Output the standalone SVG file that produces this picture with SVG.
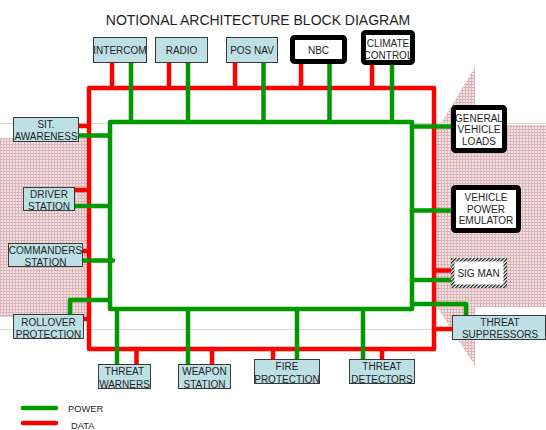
<svg xmlns="http://www.w3.org/2000/svg" width="546" height="430" viewBox="0 0 546 430">
  <defs>
    <!-- fine pink grid used for the background arrow -->
    <pattern id="pinkGrid" width="3" height="3" patternUnits="userSpaceOnUse">
      <rect width="3" height="3" fill="#f3e2e3"/>
      <rect width="3" height="1" fill="#dcb4b7"/>
      <rect width="1" height="3" fill="#dcb4b7"/>
    </pattern>
    <!-- diagonal black/white stripes for the SIG MAN frame -->
    <pattern id="hatch" width="2.6" height="2.6" patternUnits="userSpaceOnUse" patternTransform="rotate(45)">
      <rect width="2.6" height="2.6" fill="#ffffff"/>
      <rect width="1.3" height="2.6" fill="#1a1a1a"/>
    </pattern>
  </defs>
  <style>
    .t{font-family:"Liberation Sans",Arial,sans-serif;fill:#1e1e1e;text-anchor:middle}
    .lbl{font-size:10px}
    .title{font-size:14px}
    .legend{font-size:9.3px;text-anchor:start}
    .box{fill:#bce0e5;stroke:#3a3a3a;stroke-width:1}
    .heavy{fill:#ffffff;stroke:#000000;stroke-width:5}
    .data{stroke:#ff0000;stroke-width:4.5;fill:none;stroke-linecap:round;stroke-linejoin:round}
    .pwr{stroke:#009900;stroke-width:4.5;fill:none;stroke-linecap:round;stroke-linejoin:round}
    .guide{stroke:#cfe2c8;stroke-width:1}
  </style>

  <rect width="546" height="430" fill="#ffffff"/>

  <!-- background arrow -->
  <g id="backdrop">
    <rect x="0" y="138" width="89" height="179" fill="url(#pinkGrid)"/>
    <polygon fill="url(#pinkGrid)" points="434,125 440,125 475,67 475,125 546,125 546,307 475,307 475,366 437,307 434,307"/>
  </g>

  <!-- faint horizontal guides -->
  <g id="guides">
    <line class="guide" x1="0" y1="123.5" x2="546" y2="123.5"/>
    <line class="guide" x1="0" y1="329.5" x2="546" y2="329.5"/>
  </g>

  <text class="t title" x="258" y="25">NOTIONAL ARCHITECTURE BLOCK DIAGRAM</text>

  <g id="connectors">
    <!-- data bus -->
    <g id="data-bus">
      <rect class="data" x="89" y="88" width="345" height="261"/>
      <line class="data" x1="112" y1="63" x2="112" y2="88"/>
      <line class="data" x1="169" y1="63" x2="169" y2="88"/>
      <line class="data" x1="235" y1="63" x2="235" y2="88"/>
      <line class="data" x1="301" y1="64" x2="301" y2="88"/>
      <line class="data" x1="372" y1="65" x2="372" y2="88"/>
      <line class="data" x1="79" y1="126" x2="89" y2="126"/>
      <line class="data" x1="75" y1="190" x2="89" y2="190"/>
      <line class="data" x1="83" y1="251" x2="89" y2="251"/>
      <line class="data" x1="84" y1="319" x2="89" y2="319"/>
      <line class="data" x1="434" y1="270.5" x2="454" y2="270.5"/>
      <line class="data" x1="434" y1="329" x2="452" y2="329"/>
      <line class="data" x1="136.5" y1="349" x2="136.5" y2="364"/>
      <line class="data" x1="212" y1="349" x2="212" y2="364"/>
      <line class="data" x1="273" y1="349" x2="273" y2="359"/>
      <line class="data" x1="382" y1="349" x2="382" y2="359"/>
    </g>
    <!-- power bus -->
    <g id="power-bus">
      <rect class="pwr" x="110" y="122" width="302" height="187"/>
      <line class="pwr" x1="131" y1="63" x2="131" y2="122"/>
      <line class="pwr" x1="188" y1="63" x2="188" y2="122"/>
      <line class="pwr" x1="263.5" y1="63" x2="263.5" y2="122"/>
      <line class="pwr" x1="329.5" y1="64" x2="329.5" y2="122"/>
      <line class="pwr" x1="392" y1="65" x2="392" y2="122"/>
      <line class="pwr" x1="79" y1="135.5" x2="110" y2="135.5"/>
      <line class="pwr" x1="75" y1="206" x2="110" y2="206"/>
      <line class="pwr" x1="83" y1="260.5" x2="113" y2="260.5"/>
      <polyline class="pwr" points="70,314 70,300 110,300"/>
      <line class="pwr" x1="412" y1="126.5" x2="453" y2="126.5"/>
      <line class="pwr" x1="412" y1="210.5" x2="453" y2="210.5"/>
      <line class="pwr" x1="412" y1="280" x2="454" y2="280"/>
      <polyline class="pwr" points="412,304 466,304 466,315"/>
      <line class="pwr" x1="117" y1="309" x2="117" y2="364"/>
      <line class="pwr" x1="188" y1="309" x2="188" y2="364"/>
      <line class="pwr" x1="297" y1="309" x2="297" y2="359"/>
      <line class="pwr" x1="363" y1="309" x2="363" y2="359"/>
    </g>
  </g>

  <!-- top row -->
  <g id="intercom">
    <rect class="box" x="93.5" y="37.5" width="53" height="25"/>
    <text class="t lbl" x="120" y="54">INTERCOM</text>
  </g>
  <g id="radio">
    <rect class="box" x="155.5" y="37.5" width="52" height="25"/>
    <text class="t lbl" x="181.5" y="54">RADIO</text>
  </g>
  <g id="pos-nav">
    <rect class="box" x="226.5" y="37.5" width="51" height="25"/>
    <text class="t lbl" x="252" y="54">POS NAV</text>
  </g>
  <g id="nbc">
    <rect class="heavy" x="292.5" y="37.5" width="52" height="24" rx="2"/>
    <text class="t lbl" x="318.5" y="54">NBC</text>
  </g>
  <g id="climate-control">
    <rect class="heavy" x="363.5" y="32.5" width="49" height="30" rx="2"/>
    <text class="t lbl" x="388" y="47">CLIMATE</text>
    <text class="t lbl" x="388" y="58.5">CONTROL</text>
  </g>

  <!-- left column -->
  <g id="sit-awareness">
    <rect class="box" x="13.5" y="117.5" width="65" height="24"/>
    <text class="t lbl" x="46" y="127.5">SIT.</text>
    <text class="t lbl" x="46" y="139.5">AWARENESS</text>
  </g>
  <g id="driver-station">
    <rect class="box" x="23.5" y="187.5" width="51" height="23"/>
    <text class="t lbl" x="49" y="197.5">DRIVER</text>
    <text class="t lbl" x="49" y="209.5">STATION</text>
  </g>
  <g id="commanders-station">
    <rect class="box" x="8.5" y="243.5" width="74" height="23"/>
    <text class="t lbl" x="45.5" y="253.5">COMMANDERS</text>
    <text class="t lbl" x="45.5" y="265.5">STATION</text>
  </g>
  <g id="rollover-protection">
    <rect class="box" x="13.5" y="314.5" width="70" height="24"/>
    <text class="t lbl" x="48.5" y="325.5">ROLLOVER</text>
    <text class="t lbl" x="48.5" y="337.5">PROTECTION</text>
  </g>

  <!-- right column -->
  <g id="general-vehicle-loads">
    <rect class="heavy" x="453.5" y="107.5" width="51" height="43" rx="2"/>
    <text class="t lbl" x="479" y="121.5">GENERAL</text>
    <text class="t lbl" x="479" y="133.3">VEHICLE</text>
    <text class="t lbl" x="479" y="145">LOADS</text>
  </g>
  <g id="vehicle-power-emulator">
    <rect class="heavy" x="453.5" y="187.5" width="65" height="43" rx="2"/>
    <text class="t lbl" x="486" y="201">VEHICLE</text>
    <text class="t lbl" x="486" y="212.7">POWER</text>
    <text class="t lbl" x="486" y="224.4">EMULATOR</text>
  </g>
  <g id="sig-man">
    <rect x="451" y="258" width="56" height="30" fill="url(#hatch)"/>
    <rect x="454.5" y="261.5" width="49" height="23" fill="#ffffff"/>
    <text class="t lbl" x="478.5" y="277">SIG MAN</text>
  </g>
  <g id="threat-suppressors">
    <rect class="box" x="452.5" y="315.5" width="93" height="24"/>
    <text class="t lbl" x="500" y="325.5">THREAT</text>
    <text class="t lbl" x="500" y="337.5">SUPPRESSORS</text>
  </g>

  <!-- bottom row -->
  <g id="threat-warners">
    <rect class="box" x="98.5" y="364.5" width="52" height="24"/>
    <text class="t lbl" x="124.5" y="375">THREAT</text>
    <text class="t lbl" x="124.5" y="387.5">WARNERS</text>
  </g>
  <g id="weapon-station">
    <rect class="box" x="178.5" y="364.5" width="52" height="24"/>
    <text class="t lbl" x="204.5" y="375">WEAPON</text>
    <text class="t lbl" x="204.5" y="387.5">STATION</text>
  </g>
  <g id="fire-protection">
    <rect class="box" x="254.5" y="359.5" width="65" height="24"/>
    <text class="t lbl" x="287" y="370">FIRE</text>
    <text class="t lbl" x="287" y="382.5">PROTECTION</text>
  </g>
  <g id="threat-detectors">
    <rect class="box" x="349.5" y="359.5" width="65" height="24"/>
    <text class="t lbl" x="382" y="370">THREAT</text>
    <text class="t lbl" x="382" y="382.5">DETECTORS</text>
  </g>

  <!-- legend -->
  <g id="legend">
    <line class="pwr" x1="23" y1="408" x2="56" y2="408" stroke-width="5"/>
    <text class="t legend" x="68" y="412">POWER</text>
    <line class="data" x1="23" y1="423" x2="56" y2="423" stroke-width="5"/>
    <text class="t legend" x="71" y="428.5">DATA</text>
  </g>
</svg>
